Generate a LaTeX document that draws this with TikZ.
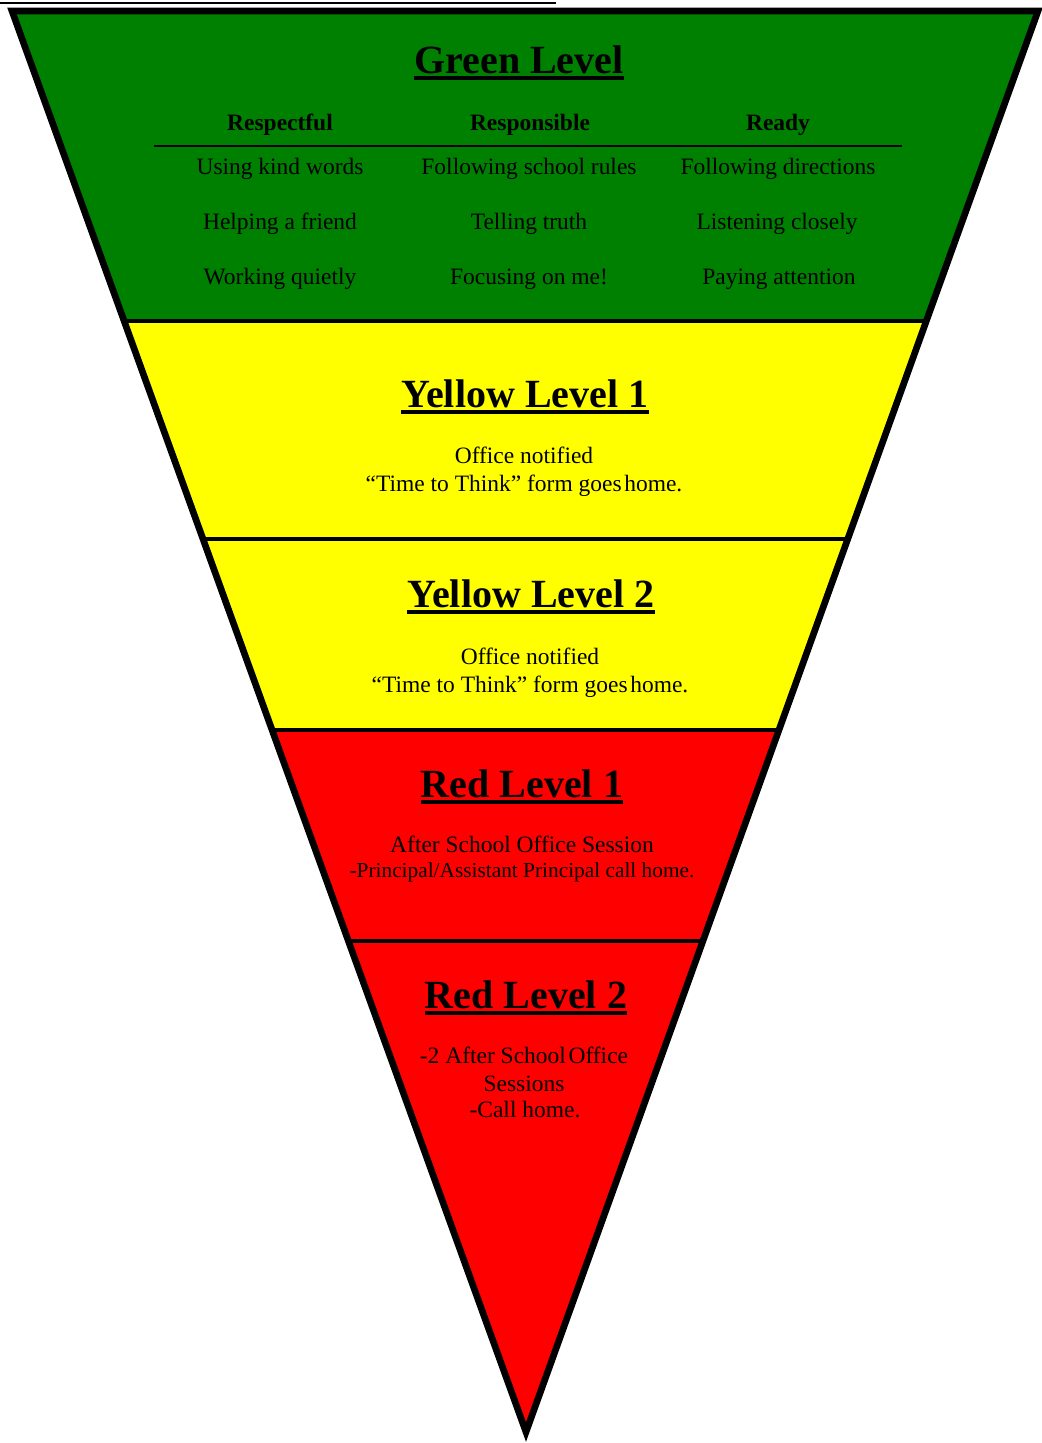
\documentclass[tikz,border=0pt]{standalone}
\usepackage{fontspec}
\setmainfont{Liberation Serif}
\definecolor{lvgreen}{RGB}{0,128,0}
\definecolor{lvyellow}{RGB}{255,255,0}
\definecolor{lvred}{RGB}{255,0,0}
\begin{document}
\begin{tikzpicture}[x=0.75pt,y=-0.75pt,
  title/.style={font=\fontsize{30}{36}\selectfont\bfseries, inner sep=0pt, anchor=base},
  head/.style={font=\fontsize{17.6}{21}\selectfont\bfseries, inner sep=0pt, anchor=base},
  body/.style={font=\fontsize{17.6}{21}\selectfont, inner sep=0pt, anchor=base},
  small/.style={font=\fontsize{16}{19}\selectfont, inner sep=0pt, anchor=base},
  uline/.style={line width=3pt},
  divider/.style={line width=3pt},
  border/.style={line width=5pt, line join=miter}]
\useasboundingbox (0,0) rectangle (1042,1443);

% thin rule along the top of the page
\coordinate (rs) at (0,3);
\coordinate (re) at (556,3);
\draw[line width=1.5pt] (rs) -- (re);

% inverted triangle
\coordinate (tl) at (12,11);
\coordinate (tr) at (1038,11);
\coordinate (apex) at (526,1432);

\begin{scope}
  \clip (tl) -- (tr) -- (apex) -- cycle;
  \fill[lvgreen]  (0,0)   rectangle (1042,321);
  \fill[lvyellow] (0,321) rectangle (1042,730);
  \fill[lvred]    (0,730) rectangle (1042,1443);
  \coordinate (d1l) at (0,321);  \coordinate (d1r) at (1042,321);
  \coordinate (d2l) at (0,539);  \coordinate (d2r) at (1042,539);
  \coordinate (d3l) at (0,730);  \coordinate (d3r) at (1042,730);
  \coordinate (d4l) at (0,941);  \coordinate (d4r) at (1042,941);
  \draw[divider] (d1l) -- (d1r);
  \draw[divider] (d2l) -- (d2r);
  \draw[divider] (d3l) -- (d3r);
  \draw[divider] (d4l) -- (d4r);
\end{scope}
\draw[border] (tl) -- (tr) -- (apex) -- cycle;

% Green level
\node[title] (gt) at (519,73) {Green Level};
\draw[uline] ([yshift=-4pt]gt.base west) -- ([yshift=-4pt]gt.base east);

\node[head] (h1) at (280,130) {Respectful};
\node[head] (h2) at (530,130) {Responsible};
\node[head] (h3) at (778,130) {Ready};
\coordinate (hl) at (154,146);
\coordinate (hr) at (902,146);
\draw[line width=1.2pt] (hl) -- (hr);

\node[body] (a1) at (280,174) {Using kind words};
\node[body] (a2) at (280,229) {Helping a friend};
\node[body] (a3) at (280,284) {Working quietly};
\node[body] (b1) at (529,174) {Following school rules};
\node[body] (b2) at (529,229) {Telling truth};
\node[body] (b3) at (529,284) {Focusing on me!};
\node[body] (c1) at (778,174) {Following directions};
\node[body] (c2) at (777,229) {Listening closely};
\node[body] (c3) at (779,284) {Paying attention};

% Yellow level 1
\node[title] (y1t) at (525,407) {Yellow Level 1};
\draw[uline] ([yshift=-4pt]y1t.base west) -- ([yshift=-4pt]y1t.base east);
\node[body] (y1a) at (524,463) {Office notified};
\node[body] (y1b) at (524,491) {“Time to Think” form goes\kern2pt home.};

% Yellow level 2
\node[title] (y2t) at (531,607) {Yellow Level 2};
\draw[uline] ([yshift=-4pt]y2t.base west) -- ([yshift=-4pt]y2t.base east);
\node[body] (y2a) at (530,664) {Office notified};
\node[body] (y2b) at (530,692) {“Time to Think” form goes\kern2pt home.};

% Red level 1
\node[title] (r1t) at (522,797) {Red Level 1};
\draw[uline] ([yshift=-4pt]r1t.base west) -- ([yshift=-4pt]r1t.base east);
\node[body] (r1a) at (522,852) {After School Office Session};
\node[small] (r1b) at (522,877) {-Principal/Assistant Principal call home.};

% Red level 2
\node[title] (r2t) at (526,1008) {Red Level 2};
\draw[uline] ([yshift=-4pt]r2t.base west) -- ([yshift=-4pt]r2t.base east);
\node[body] (r2a) at (524,1063) {-2 After School\kern2pt Office};
\node[body] (r2b) at (524,1091) {Sessions};
\node[body] (r2c) at (525,1117) {-Call home.};
\end{tikzpicture}
\end{document}
